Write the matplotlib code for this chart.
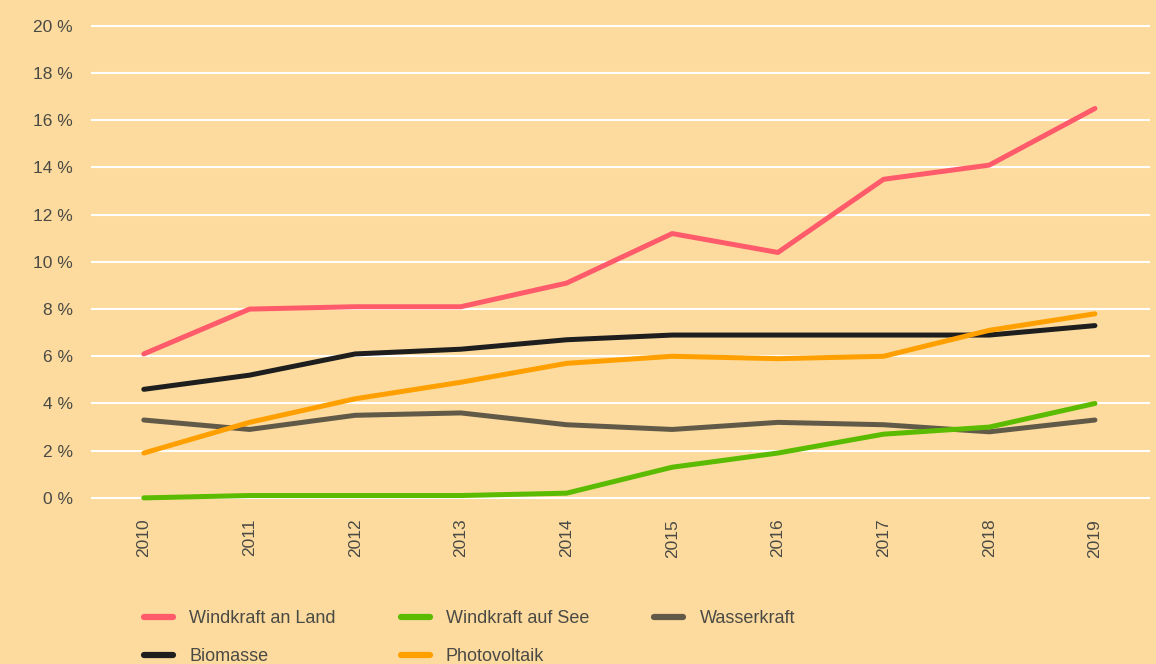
import matplotlib.pyplot as plt

years = [2010, 2011, 2012, 2013, 2014, 2015, 2016, 2017, 2018, 2019]
wind_land = [6.1, 8.0, 8.1, 8.1, 9.1, 11.2, 10.4, 13.5, 14.1, 16.5]
wind_see = [0.0, 0.1, 0.1, 0.1, 0.2, 1.3, 1.9, 2.7, 3.0, 4.0]
wasser = [3.3, 2.9, 3.5, 3.6, 3.1, 2.9, 3.2, 3.1, 2.8, 3.3]
biomasse = [4.6, 5.2, 6.1, 6.3, 6.7, 6.9, 6.9, 6.9, 6.9, 7.3]
pv = [1.9, 3.2, 4.2, 4.9, 5.7, 6.0, 5.9, 6.0, 7.1, 7.8]
yticks = [0, 2, 4, 6, 8, 10, 12, 14, 16, 18, 20]

bg = '#FDDB9E'
txt = '#4A4A45'
plt.rcParams['font.family'] = ['Liberation Sans', 'DejaVu Sans']

fig = plt.figure(figsize=(11.56, 6.64), dpi=100, facecolor=bg)
ax = fig.add_axes([0.0787, 0.2395, 0.916, 0.7304], facecolor=bg)

kw = dict(lw=3.6, solid_capstyle='round', solid_joinstyle='round')
l_wasser, = ax.plot(years, wasser, color='#625A48', label='Wasserkraft', **kw)
l_bio, = ax.plot(years, biomasse, color='#1E1E1E', label='Biomasse', **kw)
l_pv, = ax.plot(years, pv, color='#FFA000', label='Photovoltaik', **kw)
l_see, = ax.plot(years, wind_see, color='#5BBB00', label='Windkraft auf See', **kw)
l_land, = ax.plot(years, wind_land, color='#FF5B6B', label='Windkraft an Land', **kw)

ax.set_xlim(2009.5, 2019.52)
ax.set_ylim(-0.3, 20.25)
ax.set_yticks(yticks)
ax.set_yticklabels([f'{v} %' for v in yticks])
ax.set_xticks(years)
ax.set_xticklabels([str(y) for y in years], rotation=90)
ax.tick_params(axis='both', length=0, labelsize=12.5, labelcolor=txt)
ax.tick_params(axis='y', pad=13)
ax.tick_params(axis='x', pad=10)
ax.grid(axis='y', color='white', lw=1.5)
ax.set_axisbelow(True)
for s in ax.spines.values():
    s.set_visible(False)

handles = [l_land, l_bio, l_see, l_pv, l_wasser]
leg = fig.legend(handles=handles, labels=[h.get_label() for h in handles],
                 ncol=3, loc='upper left', bbox_to_anchor=(0.1185, 0.092),
                 frameon=False, handlelength=1.6,
                 handletextpad=0.9, columnspacing=3.6, labelspacing=1.15,
                 borderaxespad=0, labelcolor=txt,
                 prop={'family': 'Liberation Sans', 'size': 13})
for lh in leg.get_lines():
    lh.set_linewidth(4.5)

fig.savefig('out.png', dpi=100, facecolor=bg)
